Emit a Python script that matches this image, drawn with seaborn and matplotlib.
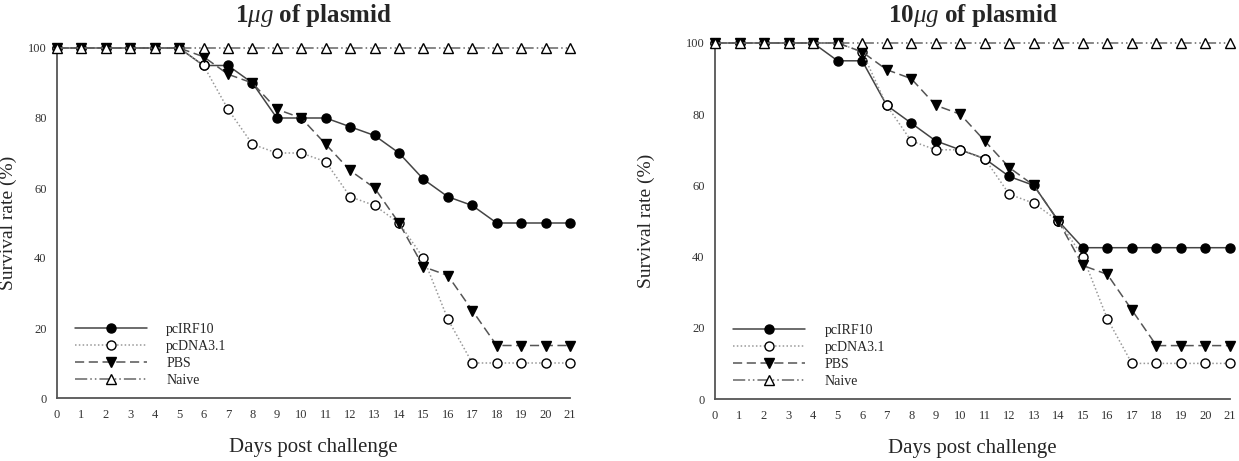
import numpy as np
import pandas as pd
import matplotlib
matplotlib.use('Agg')
import matplotlib.pyplot as plt
import seaborn as sns

DAYS = list(range(22))
GROUPS = ['pcIRF10', 'pcDNA3.1', 'PBS', 'Naive']

# 1 ug of plasmid
LOW_PCIRF10 = [100, 100, 100, 100, 100, 100, 95, 95, 90, 80, 80, 80, 77.5, 75, 70, 62.5, 57.5, 55, 50, 50, 50, 50]
LOW_PCDNA = [100, 100, 100, 100, 100, 100, 95, 82.5, 72.5, 70, 70, 67.5, 57.5, 55, 50, 40, 22.5, 10, 10, 10, 10, 10]
LOW_PBS = [100, 100, 100, 100, 100, 100, 97.5, 92.5, 90, 82.5, 80, 72.5, 65, 60, 50, 37.5, 35, 25, 15, 15, 15, 15]
LOW_NAIVE = [100] * 22

# 10 ug of plasmid
HIGH_PCIRF10 = [100, 100, 100, 100, 100, 95, 95, 82.5, 77.5, 72.5, 70, 67.5, 62.5, 60, 50, 42.5, 42.5, 42.5, 42.5, 42.5, 42.5, 42.5]
HIGH_PCDNA = [100, 100, 100, 100, 100, 100, 97.5, 82.5, 72.5, 70, 70, 67.5, 57.5, 55, 50, 40, 22.5, 10, 10, 10, 10, 10]
HIGH_PBS = [100, 100, 100, 100, 100, 100, 97.5, 92.5, 90, 82.5, 80, 72.5, 65, 60, 50, 37.5, 35, 25, 15, 15, 15, 15]
HIGH_NAIVE = [100] * 22

TITLES = [r'1$\mu g$ of plasmid', r'10$\mu g$ of plasmid']


def make_df(series):
    frames = []
    for name, vals in zip(GROUPS, series):
        frames.append(pd.DataFrame({'day': DAYS, 'rate': vals, 'group': name}))
    return pd.concat(frames, ignore_index=True)


sns.set_style('white')
plt.rcParams['font.family'] = ['Liberation Serif', 'DejaVu Serif']
plt.rcParams['mathtext.fontset'] = 'custom'
plt.rcParams['mathtext.it'] = 'Liberation Serif:italic'
plt.rcParams['mathtext.rm'] = 'Liberation Serif'

styles = {
    'pcIRF10': dict(ls='-', marker='o', mfc='black', color='#444444'),
    'pcDNA3.1': dict(ls=(0, (1, 1.5)), marker='o', mfc='white', color='#999999'),
    'PBS': dict(ls=(0, (6, 3)), marker='v', mfc='black', color='#555555'),
    'Naive': dict(ls=(0, (8, 2, 1, 2, 1, 2)), marker='^', mfc='white', color='#666666'),
}

fig = plt.figure(figsize=(12.39, 4.61), dpi=100)
ax1 = fig.add_axes([57 / 1239, 63 / 461, 513 / 1239, 350 / 461])
ax2 = fig.add_axes([715 / 1239, 62 / 461, 515 / 1239, 356 / 461])

datasets = [
    make_df([LOW_PCIRF10, LOW_PCDNA, LOW_PBS, LOW_NAIVE]),
    make_df([HIGH_PCIRF10, HIGH_PCDNA, HIGH_PBS, HIGH_NAIVE]),
]

for i, (ax, df, title) in enumerate(zip([ax1, ax2], datasets, TITLES)):
    for name in GROUPS:
        st = styles[name]
        sub = df[df['group'] == name]
        sns.lineplot(data=sub, x='day', y='rate', ax=ax, color=st['color'],
                     linestyle=st['ls'], marker=st['marker'], markersize=6.5,
                     markerfacecolor=st['mfc'], markeredgecolor='black',
                     markeredgewidth=1.0, linewidth=1.1, label=name,
                     clip_on=False, zorder=3)
    ax.set_xlim(0, 21)
    ax.set_ylim(0, 100)
    ax.set_xticks(DAYS)
    ax.set_yticks([0, 20, 40, 60, 80, 100])
    ax.tick_params(axis='x', direction='in', length=4, labelsize=9, pad=8,
                   colors='#333333')
    ax.tick_params(axis='y', direction='out', length=4, labelsize=9,
                   colors='#333333')
    for s in ['top', 'right']:
        ax.spines[s].set_visible(False)
    for s in ['left', 'bottom']:
        ax.spines[s].set_color('#555555')
        ax.spines[s].set_linewidth(1.3)
    ax.set_xlabel('Days post challenge', fontsize=15, labelpad=12)
    ax.set_ylabel('Survival rate (%)', fontsize=14, labelpad=8 if i == 0 else 22)
    ax.set_title(title, fontsize=18, fontweight='bold', pad=19 if i == 0 else 15)
    ax.legend(loc='lower left', bbox_to_anchor=(0.01, -0.005), frameon=False,
              fontsize=10, handlelength=5.2, labelspacing=0.3,
              handletextpad=1.4)

fig.savefig('out.png', dpi=100)
